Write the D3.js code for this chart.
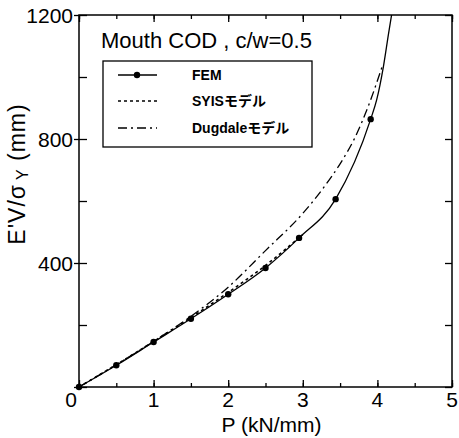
<!DOCTYPE html>
<html>
<head>
<meta charset="utf-8">
<script src="https://cdn.jsdelivr.net/npm/d3@7/dist/d3.min.js"></script>
<style>
  body { margin: 0; background: #fff; }
  text { font-family: "Liberation Sans", Arial, "Noto Sans CJK JP", sans-serif; fill: #000; }
</style>
</head>
<body>
<script>
  var w = 459;
  var h = 438;
  var padL = 79, padT = 15, padR = 452, padB = 387;

  // FEM (markers) and the rest of the FEM curve up to the top edge
  var femP = [0, 0.5, 1, 1.5, 2, 2.5, 2.95, 3.44, 3.91];
  var femV = [0, 70, 145, 220, 299, 384, 481, 606, 864];
  var femTailP = [3.99, 4.08, 4.15, 4.19];
  var femTailV = [926, 1033, 1141, 1200];

  var syisP = [0, 0.5, 1, 1.5, 2, 2.5, 3.0];
  var syisV = [0, 72, 147, 224, 305, 392, 492];

  var dugP = [0, 0.5, 1, 1.5, 2, 2.5, 3, 3.3, 3.5, 3.7, 3.9, 4.06];
  var dugV = [0, 72, 147, 228, 322, 440, 560, 650, 720, 805, 920, 1031];

  var xTicks = [0, 1, 2, 3, 4, 5];
  var yTicks = [0, 400, 800, 1200];

  var title = "Mouth COD , c/w=0.5";
  var legendNames = ["FEM", "SYISモデル", "Dugdaleモデル"];

  var svg = d3.select("body").append("svg")
              .attr("width", w)
              .attr("height", h);

  var x = d3.scaleLinear().domain([0, 5]).range([padL, padR]);
  var y = d3.scaleLinear().domain([0, 1200]).range([padB, padT]);

  // frame
  svg.append("rect")
     .attr("x", padL).attr("y", padT)
     .attr("width", padR - padL).attr("height", padB - padT)
     .attr("fill", "none").attr("stroke", "#000").attr("stroke-width", 1.5);

  // ticks: every 0.5 on x, every 200 on y, pointing inward
  var xMinor = d3.range(0, 5.01, 0.5);
  var yMinor = d3.range(0, 1201, 200);

  function noDomain(g){ g.select(".domain").remove(); }

  svg.append("g").attr("transform", "translate(0," + padB + ")")
     .call(d3.axisBottom(x).tickValues(xMinor).tickSize(-4).tickFormat(""))
     .call(noDomain);
  svg.append("g").attr("transform", "translate(0," + padB + ")")
     .call(d3.axisBottom(x).tickValues(xTicks).tickSize(-7).tickFormat(""))
     .call(noDomain);
  svg.append("g").attr("transform", "translate(0," + padT + ")")
     .call(d3.axisTop(x).tickValues(xMinor).tickSize(-4).tickFormat(""))
     .call(noDomain);
  svg.append("g").attr("transform", "translate(0," + padT + ")")
     .call(d3.axisTop(x).tickValues(xTicks).tickSize(-7).tickFormat(""))
     .call(noDomain);
  svg.append("g").attr("transform", "translate(" + padL + ",0)")
     .call(d3.axisLeft(y).tickValues(yMinor).tickSize(-8).tickFormat(""))
     .call(noDomain);
  svg.append("g").attr("transform", "translate(" + padL + ",0)")
     .call(d3.axisLeft(y).tickValues(yTicks).tickSize(5).tickFormat(""))
     .call(noDomain);
  svg.append("g").attr("transform", "translate(" + padR + ",0)")
     .call(d3.axisRight(y).tickValues(yMinor).tickSize(-7).tickFormat(""))
     .call(noDomain);
  svg.selectAll(".tick line").attr("stroke", "#000").attr("stroke-width", 1.3);

  // tick labels
  svg.selectAll(".xlab")
     .data(xTicks)
     .enter()
     .append("text")
     .text(function(d){ return d; })
     .attr("x", function(d){ return x(d) - (d === 0 ? 8 : 0); })
     .attr("y", 407)
     .attr("font-size", "21px")
     .attr("text-anchor", "middle");

  svg.selectAll(".ylab")
     .data(yTicks.filter(function(d){ return d > 0; }))
     .enter()
     .append("text")
     .text(function(d){ return d; })
     .attr("x", 73)
     .attr("y", function(d){ return y(d) + 7.5; })
     .attr("font-size", "21px")
     .attr("text-anchor", "end");

  // axis titles
  svg.append("text")
     .text("P (kN/mm)")
     .attr("x", (padL + padR) / 2 + 6)
     .attr("y", 432)
     .attr("font-size", "21px")
     .attr("text-anchor", "middle");

  var yl = svg.append("text")
     .attr("transform", "translate(25,174) rotate(-90)")
     .attr("font-size", "23px")
     .attr("letter-spacing", "1px")
     .attr("text-anchor", "middle");
  yl.append("tspan").text("E'V/σ");
  yl.append("tspan").text("Y").attr("font-size", "16px").attr("dx", 4).attr("dy", 3);
  yl.append("tspan").text(" (mm)").attr("dy", -3);

  svg.append("text")
     .text(title)
     .attr("x", 101)
     .attr("y", 48)
     .attr("font-size", "22px");

  // curves
  var line = d3.line()
               .x(function(d){ return x(d[0]); })
               .y(function(d){ return y(d[1]); })
               .curve(d3.curveMonotoneX);

  var fem = femP.map(function(p, i){ return [p, femV[i]]; });
  var femLine = fem.concat(femTailP.map(function(p, i){ return [p, femTailV[i]]; }));
  var syis = syisP.map(function(p, i){ return [p, syisV[i]]; });
  var dug = dugP.map(function(p, i){ return [p, dugV[i]]; });

  svg.append("path").datum(dug)
     .attr("d", line)
     .attr("fill", "none").attr("stroke", "#000").attr("stroke-width", 1.3)
     .attr("stroke-dasharray", "9,4,2,4");
  svg.append("path").datum(syis)
     .attr("d", line)
     .attr("fill", "none").attr("stroke", "#000").attr("stroke-width", 1.6)
     .attr("stroke-dasharray", "3,3");
  svg.append("path").datum(femLine)
     .attr("d", line)
     .attr("fill", "none").attr("stroke", "#000").attr("stroke-width", 1.3);

  svg.selectAll(".dot")
     .data(fem)
     .enter()
     .append("circle")
     .attr("cx", function(d){ return x(d[0]); })
     .attr("cy", function(d){ return y(d[1]); })
     .attr("r", 3.2)
     .attr("fill", "#000");

  // legend
  svg.append("rect")
     .attr("x", 103).attr("y", 61)
     .attr("width", 209).attr("height", 86)
     .attr("fill", "#fff").attr("stroke", "#000").attr("stroke-width", 1.3);

  var dashes = [null, "3,3", "9,4,2,4"];
  var rowY = [75, 101, 128];
  var lg = svg.selectAll(".leg")
              .data(legendNames)
              .enter()
              .append("g");
  lg.append("line")
    .attr("x1", 118).attr("x2", 157)
    .attr("y1", function(d, i){ return rowY[i]; })
    .attr("y2", function(d, i){ return rowY[i]; })
    .attr("stroke", "#000").attr("stroke-width", 1.4)
    .attr("stroke-dasharray", function(d, i){ return dashes[i]; });
  lg.append("text")
    .text(function(d){ return d; })
    .attr("x", 192)
    .attr("y", function(d, i){ return rowY[i] + 5; })
    .attr("font-size", "14px")
    .attr("font-weight", "bold");
  svg.append("circle")
     .attr("cx", 137).attr("cy", rowY[0]).attr("r", 3.2).attr("fill", "#000");
</script>
</body>
</html>
